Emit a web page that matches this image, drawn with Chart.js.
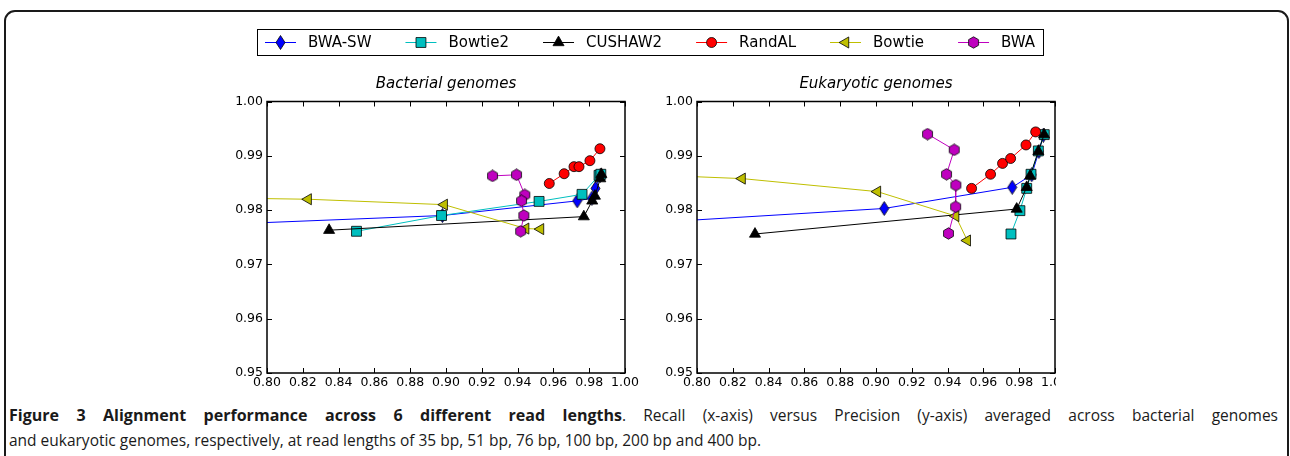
<!DOCTYPE html>
<html>
<head>
<meta charset="utf-8">
<script src="https://cdn.jsdelivr.net/npm/chart.js@4.4.1/dist/chart.umd.min.js"></script>
<style>
  html, body { margin: 0; padding: 0; background: #fff; }
  body { width: 1290px; height: 456px; position: relative; overflow: hidden; }
  .frame {
    position: absolute; left: 4px; top: 10px; width: 1285px; height: 520px;
    border: 2px solid #1a1a1a; border-radius: 11px; box-sizing: border-box;
  }
  canvas { position: absolute; left: 0; top: 0; }
  .clip { position: absolute; left: 0; top: 0; width: 1056px; height: 400px; overflow: hidden; }
  .cap {
    position: absolute; white-space: nowrap; transform-origin: 0 0;
    font-family: "Open Sans", sans-serif; font-size: 16px; line-height: 22px; color: #1a1a1a;
  }
  .cap.bold { font-weight: 700; }
</style>
</head>
<body>
<div class="frame"></div>
<canvas id="bacterial" width="1290" height="400"></canvas>
<div class="clip"><canvas id="eukaryotic" width="1290" height="400"></canvas></div>
<div class="cap bold" id="capBold" style="left:9px; top:404px">Figure 3 Alignment performance across 6 different read lengths</div>
<div class="cap" id="capRest" style="left:622px; top:404px">. Recall (x-axis) versus Precision (y-axis) averaged across bacterial genomes</div>
<div class="cap" id="capLine2" style="left:9px; top:429px">and eukaryotic genomes, respectively, at read lengths of 35 bp, 51 bp, 76 bp, 100 bp, 200 bp and 400 bp.</div>
<script>
// aligners, legend order
const aligners = ['BWA-SW', 'Bowtie2', 'CUSHAW2', 'RandAL', 'Bowtie', 'BWA'];
const panelTitles = ['Bacterial genomes', 'Eukaryotic genomes'];

const xTickValues = [0.80, 0.82, 0.84, 0.86, 0.88, 0.90, 0.92, 0.94, 0.96, 0.98, 1.00];
const yTickValues = [0.95, 0.96, 0.97, 0.98, 0.99, 1.00];

// [recall, precision] per read length, bacterial genomes
const bacBwaSw   = [[0.700, 0.9764], [0.898, 0.9790], [0.9733, 0.9817], [0.9815, 0.9822], [0.9835, 0.9840], [0.9862, 0.9864]];
const bacBowtie2 = [[0.850, 0.9761], [0.8975, 0.9790], [0.952, 0.9816], [0.976, 0.9829], [0.9855, 0.9864], [0.9865, 0.9866]];
const bacCushaw2 = [[0.8347, 0.9763], [0.977, 0.9788], [0.9817, 0.9817], [0.9832, 0.9826], [0.9862, 0.9858], [0.9868, 0.9866]];
const bacRandal  = [[0.9577, 0.9849], [0.966, 0.9867], [0.9715, 0.9880], [0.9743, 0.9880], [0.9804, 0.9891], [0.986, 0.9913]];
const bacBowtie  = [[0.700, 0.9826], [0.823, 0.9820], [0.899, 0.9810], [0.9445, 0.9766], [0.9528, 0.9765]];
const bacBwa     = [[0.926, 0.9863], [0.9394, 0.9865], [0.944, 0.9828], [0.9422, 0.9817], [0.9435, 0.9790], [0.9417, 0.9761]];

// eukaryotic genomes
const eukBwaSw   = [[0.750, 0.9772], [0.9046, 0.9803], [0.9761, 0.9842], [0.987, 0.9865], [0.991, 0.9908], [0.9935, 0.9938]];
const eukBowtie2 = [[0.9754, 0.9756], [0.9804, 0.9799], [0.9842, 0.9840], [0.9866, 0.9866], [0.9907, 0.9909], [0.994, 0.9939]];
const eukCushaw2 = [[0.8324, 0.9756], [0.9786, 0.9802], [0.9842, 0.9842], [0.9861, 0.9863], [0.9907, 0.9908], [0.9939, 0.9939]];
const eukRandal  = [[0.9534, 0.9840], [0.964, 0.9866], [0.9707, 0.9886], [0.9752, 0.9895], [0.9838, 0.9920], [0.9892, 0.9944]];
const eukBowtie  = [[0.750, 0.9868], [0.8252, 0.9858], [0.9008, 0.9834], [0.9445, 0.9789], [0.951, 0.9744]];
const eukBwa     = [[0.9288, 0.9940], [0.9437, 0.9911], [0.9394, 0.9866], [0.9446, 0.9846], [0.9445, 0.9806], [0.9405, 0.9757]];

// small marker images for shapes chart.js doesn't have
function shape(w, h, fill, path) {
  const c = document.createElement('canvas');
  c.width = w; c.height = h;
  const g = c.getContext('2d');
  g.beginPath();
  path(g, w, h);
  g.closePath();
  g.fillStyle = fill;
  g.fill();
  g.lineWidth = 0.8;
  g.strokeStyle = '#000';
  g.stroke();
  return c;
}
const thinDiamond = shape(11, 15, '#0000ff', (g, w, h) => {
  g.moveTo(w / 2, 0.5); g.lineTo(w - 1, h / 2); g.lineTo(w / 2, h - 0.5); g.lineTo(1, h / 2);
});
const hexagon = shape(13, 13, '#bf00bf', (g, w, h) => {
  for (let i = 0; i < 6; i++) {
    const a = Math.PI / 2 + i * Math.PI / 3;
    const px = w / 2 + 5.7 * Math.cos(a), py = h / 2 - 5.7 * Math.sin(a);
    if (i === 0) g.moveTo(px, py); else g.lineTo(px, py);
  }
});

const styles = [
  { line: '#0000ff', fill: '#0000ff', pointStyle: thinDiamond, radius: 5.5, rotation: 0 },
  { line: '#00bfbf', fill: '#00bfbf', pointStyle: 'rect', radius: 7, rotation: 0 },
  { line: '#000000', fill: '#000000', pointStyle: 'triangle', radius: 6.4, rotation: 0 },
  { line: '#ff0000', fill: '#ff0000', pointStyle: 'circle', radius: 5, rotation: 0 },
  { line: '#bfbf00', fill: '#bfbf00', pointStyle: 'triangle', radius: 6.4, rotation: 270 },
  { line: '#bf00bf', fill: '#bf00bf', pointStyle: hexagon, radius: 5.5, rotation: 0 }
];

function makeDatasets(seriesList) {
  return seriesList.map((pts, i) => ({
    label: aligners[i],
    data: pts.map(p => ({ x: p[0], y: p[1] })),
    showLine: true,
    borderColor: styles[i].line,
    borderWidth: 1,
    backgroundColor: styles[i].fill,
    pointBackgroundColor: styles[i].fill,
    pointBorderColor: '#000',
    pointBorderWidth: 0.8,
    pointStyle: styles[i].pointStyle,
    pointRadius: styles[i].radius,
    pointRotation: styles[i].rotation,
    pointHoverRadius: styles[i].radius,
    order: seriesList.length - i,
    clip: { left: 0, top: 8, right: 8, bottom: 0 }
  }));
}

// matplotlib style frame with inward ticks
const framePlugin = {
  id: 'frame',
  afterDatasetsDraw(chart) {
    const { ctx, chartArea: a } = chart;
    const xs = chart.scales.x, ys = chart.scales.y;
    ctx.save();
    ctx.strokeStyle = '#000';
    ctx.lineWidth = 1;
    ctx.beginPath();
    xs.ticks.forEach(t => {
      const px = Math.round(xs.getPixelForValue(t.value)) + 0.5;
      ctx.moveTo(px, a.bottom); ctx.lineTo(px, a.bottom - 5);
      ctx.moveTo(px, a.top); ctx.lineTo(px, a.top + 5);
    });
    ys.ticks.forEach(t => {
      const py = Math.round(ys.getPixelForValue(t.value)) + 0.5;
      ctx.moveTo(a.left, py); ctx.lineTo(a.left + 5, py);
      ctx.moveTo(a.right, py); ctx.lineTo(a.right - 5, py);
    });
    ctx.stroke();
    ctx.lineWidth = 1.5;
    ctx.strokeRect(a.left, a.top, a.right - a.left, a.bottom - a.top);
    ctx.restore();
  }
};

// boxed legend across the top of the figure
const figLegend = {
  id: 'figLegend',
  afterDraw(chart) {
    const ctx = chart.ctx;
    const handle = 31, hgap = 12, gap = 34, pad = 8, top = 29, h = 26, cx = 650;
    ctx.save();
    ctx.font = '15px "DejaVu Sans"';
    const widths = aligners.map(n => ctx.measureText(n).width);
    const total = pad * 2 + widths.reduce((s, w) => s + w, 0) +
      aligners.length * (handle + hgap) + (aligners.length - 1) * gap;
    let x = Math.round(cx - total / 2);
    ctx.fillStyle = '#fff';
    ctx.fillRect(x, top, total, h);
    ctx.strokeStyle = '#000';
    ctx.lineWidth = 1;
    ctx.strokeRect(x + 0.5, top + 0.5, Math.round(total), h);
    x += pad;
    const y = top + h / 2 + 0.5;
    chart.data.datasets.forEach((ds, i) => {
      ctx.strokeStyle = ds.borderColor;
      ctx.lineWidth = 1;
      ctx.beginPath();
      ctx.moveTo(x, y); ctx.lineTo(x + handle, y);
      ctx.stroke();
      ctx.fillStyle = ds.pointBackgroundColor;
      ctx.strokeStyle = '#000';
      ctx.lineWidth = ds.pointBorderWidth;
      Chart.helpers.drawPoint(ctx, {
        pointStyle: ds.pointStyle, radius: ds.pointRadius,
        rotation: ds.pointRotation, borderWidth: ds.pointBorderWidth
      }, x + handle / 2, y);
      ctx.fillStyle = '#000';
      ctx.textBaseline = 'middle';
      ctx.textAlign = 'left';
      ctx.fillText(ds.label, x + handle + hgap, y + 1);
      x += handle + hgap + widths[i] + gap;
    });
    ctx.restore();
  }
};

function panel(canvasId, title, seriesList, areaLeft, withLegend) {
  const areaRight = areaLeft + 358;
  return new Chart(document.getElementById(canvasId), {
    type: 'scatter',
    data: { datasets: makeDatasets(seriesList) },
    plugins: withLegend ? [framePlugin, figLegend] : [framePlugin],
    options: {
      responsive: false,
      animation: false,
      events: [],
      layout: { padding: { left: areaLeft - 40, right: 1290 - areaRight, top: 75, bottom: 5 } },
      plugins: {
        legend: { display: false },
        tooltip: { enabled: false },
        title: {
          display: true, text: title, fullSize: false, color: '#000',
          font: { family: 'DejaVu Sans', size: 15, style: 'italic', weight: 'normal' },
          padding: { top: 0, bottom: 8.5 }
        }
      },
      scales: {
        x: {
          type: 'linear', min: 0.80, max: 1.00,
          afterFit: s => { s.height = 22; },
          afterBuildTicks: s => { s.ticks = xTickValues.map(v => ({ value: v })); },
          grid: { display: false, drawTicks: false },
          border: { display: false },
          ticks: {
            color: '#000', padding: 2, maxRotation: 0, autoSkip: false,
            font: { family: 'DejaVu Sans', size: 12.5 },
            callback: v => Number(v).toFixed(2)
          }
        },
        y: {
          type: 'linear', min: 0.95, max: 1.00,
          afterFit: s => { s.width = 40; },
          afterBuildTicks: s => { s.ticks = yTickValues.map(v => ({ value: v })); },
          grid: { display: false, drawTicks: false },
          border: { display: false },
          ticks: {
            color: '#000', padding: 4, autoSkip: false,
            font: { family: 'DejaVu Sans', size: 12.5 },
            callback: v => Number(v).toFixed(2)
          }
        }
      }
    }
  });
}

panel('bacterial', panelTitles[0],
  [bacBwaSw, bacBowtie2, bacCushaw2, bacRandal, bacBowtie, bacBwa], 267, true);
panel('eukaryotic', panelTitles[1],
  [eukBwaSw, eukBowtie2, eukCushaw2, eukRandal, eukBowtie, eukBwa], 697, false);

// caption: regular text narrowed to the last line's length, first line justified;
// the bold run keeps its wider glyphs and gets the same gap between words
const boldEl = document.getElementById('capBold');
const restEl = document.getElementById('capRest');
const line2 = document.getElementById('capLine2');
const k = 752 / line2.getBoundingClientRect().width;
line2.style.transform = 'scaleX(' + k + ')';
restEl.style.transform = 'scaleX(' + k + ')';
const restSpaces = restEl.textContent.split(' ').length - 1;
const gapPx = (656 - restEl.getBoundingClientRect().width) / restSpaces;   // on-screen extra per gap
restEl.style.wordSpacing = (gapPx / k) + 'px';
const boldSpaces = boldEl.textContent.split(' ').length - 1;
const kb = (613 - boldSpaces * gapPx) / boldEl.getBoundingClientRect().width;
boldEl.style.transform = 'scaleX(' + kb + ')';
boldEl.style.wordSpacing = (gapPx / kb) + 'px';
</script>
</body>
</html>
